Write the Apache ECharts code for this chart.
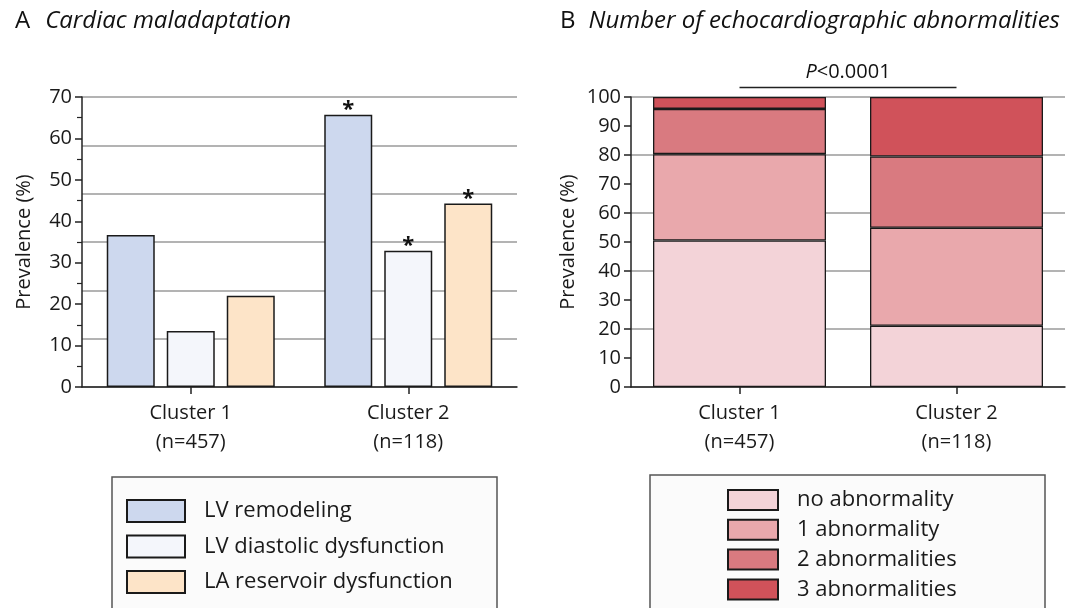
<!DOCTYPE html>
<html>
<head>
<meta charset="utf-8">
<script src="https://cdn.jsdelivr.net/npm/echarts@6/dist/echarts.min.js"></script>
<style>
html, body { margin: 0; padding: 0; background: #fff; }
#main { width: 1073px; height: 608px; }
</style>
</head>
<body>
<div id="main"></div>
<script>
// categories
var clusters = ['Cluster 1\n(n=457)', 'Cluster 2\n(n=118)'];

// panel A: cardiac maladaptation (%)
var maladaptNames = ['LV remodeling', 'LV diastolic dysfunction', 'LA reservoir dysfunction'];
var lvRemodeling = [36.7, 65.7];
var lvDiastolic = [13.5, 32.9];
var laReservoir = [22.0, 44.3];
var significant = [false, true]; // asterisk: different from cluster 1

// panel B: number of echo abnormalities (%)
var abnormNames = ['no abnormality', '1 abnormality', '2 abnormalities', '3 abnormalities'];
var noAbn = [50.5, 21.1];
var oneAbn = [29.8, 33.8];
var twoAbn = [15.6, 24.6];
var threeAbn = [4.1, 20.5];
var pValueText = ['P', '<0.0001'];

var FONT = 'Open Sans';
var colorsA = ['#cdd8ee', '#f4f6fb', '#fde4c8'];
var colorsB = ['#f3d3d8', '#e9a8ac', '#d97a80', '#d0525a'];

var myChart = echarts.init(document.getElementById('main'));

function starData(vals) {
	return vals.map(function (v, i) {
		return { value: v, label: { show: significant[i] } };
	});
}

var seriesA = [lvRemodeling, lvDiastolic, laReservoir].map(function (vals, i) {
	return {
		name: maladaptNames[i],
		type: 'bar',
		xAxisIndex: 0,
		yAxisIndex: 0,
		barWidth: 48,
		barGap: '25%',
		itemStyle: { color: colorsA[i], borderColor: '#1a1a1a', borderWidth: 1.5 },
		label: {
			position: 'top',
			distance: -6,
			formatter: '*',
			fontSize: 22,
			fontWeight: 'bold',
			color: '#111',
			fontFamily: FONT
		},
		emphasis: { disabled: true },
		data: starData(vals)
	};
});

var seriesB = [noAbn, oneAbn, twoAbn, threeAbn].map(function (vals, i) {
	return {
		name: abnormNames[i],
		type: 'bar',
		stack: 'abn',
		xAxisIndex: 1,
		yAxisIndex: 2,
		barWidth: 173,
		itemStyle: { color: colorsB[i], borderColor: '#1a1a1a', borderWidth: 1.3 },
		emphasis: { disabled: true },
		data: vals
	};
});

var axisLineStyle = { color: '#222', width: 1.5 };
var gridLineStyle = { color: '#9a9a9a', width: 1.5 };

function valueAxis(gridIdx, max, interval, nameGap, minor) {
	return {
		type: 'value',
		gridIndex: gridIdx,
		min: 0,
		max: max,
		interval: interval,
		name: 'Prevalence (%)',
		nameLocation: 'middle',
		nameGap: nameGap,
		nameTextStyle: { fontSize: 20, color: '#1a1a1a', fontFamily: FONT },
		axisLine: { show: true, lineStyle: axisLineStyle },
		axisTick: { show: true, length: 7, lineStyle: axisLineStyle },
		minorTick: { show: minor, splitNumber: 2, length: 5, lineStyle: { color: '#222', width: 1.2 } },
		axisLabel: { fontSize: 20, color: '#1a1a1a', margin: 10, fontFamily: FONT },
		splitLine: { show: false }
	};
}

function gridAxis(gridIdx, max, interval) {
	return {
		type: 'value',
		gridIndex: gridIdx,
		min: 0,
		max: max,
		interval: interval,
		position: 'right',
		axisLine: { show: false },
		axisTick: { show: false },
		axisLabel: { show: false },
		splitLine: { show: true, lineStyle: gridLineStyle }
	};
}

function catAxis(gridIdx) {
	return {
		type: 'category',
		gridIndex: gridIdx,
		data: clusters,
		axisLine: { show: true, lineStyle: axisLineStyle },
		axisTick: { show: true, alignWithLabel: true, length: 7, lineStyle: axisLineStyle },
		axisLabel: { fontSize: 20, lineHeight: 29, color: '#1a1a1a', margin: 12, fontFamily: FONT }
	};
}

function panelTitle(letter, text, left, gap) {
	return {
		left: left,
		top: 4,
		text: '{n|' + letter + '}{t|' + text + '}',
		textStyle: {
			fontWeight: 'normal',
			rich: {
				n: { fontSize: 24, fontWeight: 'normal', color: '#111', fontFamily: FONT },
				t: { fontSize: 24, fontWeight: 'normal', fontStyle: 'italic', color: '#111', fontFamily: FONT, padding: [0, 0, 0, gap] }
			}
		}
	};
}

var option = {
	animation: false,
	textStyle: { fontFamily: FONT },
	title: [
		panelTitle('A', 'Cardiac maladaptation', 10, 15),
		panelTitle('B', 'Number of echocardiographic abnormalities', 555, 13)
	],
	grid: [
		{ left: 82, top: 97, width: 435, height: 290 },
		{ left: 631, top: 97, width: 434, height: 290 }
	],
	xAxis: [catAxis(0), catAxis(1)],
	yAxis: [
		valueAxis(0, 70, 10, 48, true),
		gridAxis(0, 70, 70 / 6),
		valueAxis(1, 100, 10, 53, false),
		gridAxis(1, 100, 20)
	],
	legend: [{
		data: maladaptNames,
		orient: 'vertical',
		left: 126,
		top: 499,
		padding: 0,
		icon: 'rect',
		itemWidth: 58,
		itemHeight: 22,
		itemGap: 11.5,
		selectedMode: false,
		z: 10,
		textStyle: { fontSize: 22, lineHeight: 22, color: '#1a1a1a', fontFamily: FONT, padding: [0, 0, 0, 14] }
	}, {
		data: abnormNames,
		orient: 'vertical',
		left: 727,
		top: 489,
		padding: 0,
		icon: 'rect',
		itemWidth: 50,
		itemHeight: 20,
		itemGap: 7.8,
		selectedMode: false,
		z: 10,
		textStyle: { fontSize: 22, lineHeight: 20, color: '#1a1a1a', fontFamily: FONT, padding: [0, 0, 0, 14] }
	}],
	series: seriesA.concat(seriesB)
};

myChart.setOption(option);

// legend frames and significance bracket over panel B
var x1 = myChart.convertToPixel({ xAxisIndex: 1 }, 0);
var x2 = myChart.convertToPixel({ xAxisIndex: 1 }, 1);
var yLine = myChart.convertToPixel({ yAxisIndex: 2 }, 103.3);
myChart.setOption({
	graphic: [{
		id: 'boxA',
		type: 'rect',
		z: 1,
		shape: { x: 112, y: 477, width: 385, height: 150 },
		style: { fill: '#fbfbfb', stroke: '#555', lineWidth: 1.5 }
	}, {
		id: 'boxB',
		type: 'rect',
		z: 1,
		shape: { x: 650, y: 475, width: 395, height: 150 },
		style: { fill: '#fbfbfb', stroke: '#555', lineWidth: 1.5 }
	}, {
		id: 'pLine',
		type: 'line',
		z: 5,
		shape: { x1: x1, y1: yLine, x2: x2, y2: yLine },
		style: { stroke: '#222', lineWidth: 1.5 }
	}, {
		id: 'pText',
		type: 'text',
		z: 5,
		x: (x1 + x2) / 2,
		y: yLine - 5,
		style: {
			text: '{i|' + pValueText[0] + '}{r|' + pValueText[1] + '}',
			align: 'center',
			verticalAlign: 'bottom',
			rich: {
				i: { fontStyle: 'italic', fontSize: 20, fill: '#111', fontFamily: FONT },
				r: { fontSize: 20, fill: '#111', fontFamily: FONT }
			}
		}
	}]
});
</script>
</body>
</html>
